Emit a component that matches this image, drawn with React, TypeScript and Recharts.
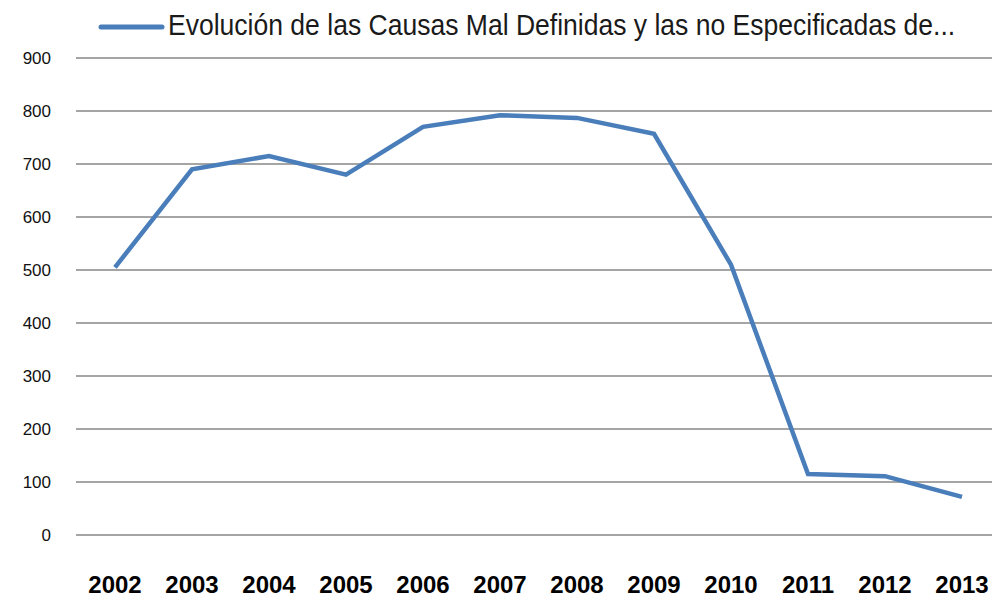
import React from "react";
import { LineChart, Line, XAxis, YAxis, CartesianGrid, Legend } from "recharts";

const years = ["2002", "2003", "2004", "2005", "2006", "2007", "2008", "2009", "2010", "2011", "2012", "2013"];
const values = [505, 690, 715, 680, 770, 792, 787, 757, 510, 115, 111, 72];
const yTicks = [0, 100, 200, 300, 400, 500, 600, 700, 800, 900];
const seriesName = "Evolución de las Causas Mal Definidas y las no Especificadas de...";

const data = years.map((y, i) => ({ year: y, value: values[i] }));

const LINE_COLOR = "#4a7ebb";

const LegendContent = (props: any) => {
  const p = props.payload && props.payload[0];
  const label = p ? p.value : seriesName;
  return (
    <svg width={992} height={56} style={{ display: "block" }}>
      <line x1={101} y1={27} x2={162} y2={27} stroke={LINE_COLOR} strokeWidth={5} strokeLinecap="round" />
      <g transform="translate(168,35) scale(0.915,1)">
        <text
          x={0}
          y={0}
          fontSize={29}
          fontFamily="'Liberation Sans', Arial, sans-serif"
          fill="#1a1a1a"
        >
          {label}
        </text>
      </g>
    </svg>
  );
};

export default function App() {
  return (
    <div style={{ width: 992, height: 597, overflow: "hidden", background: "#fff" }}>
      <style>{`body{margin:0;overflow:hidden;background:#fff}`}</style>
      <LineChart width={992} height={597} data={data} margin={{ top: 2, right: 0, bottom: 0, left: 0 }}>
        <Legend
          verticalAlign="top"
          align="left"
          height={56}
          content={LegendContent}
          wrapperStyle={{ top: 0, left: 0, width: 992, height: 56 }}
        />
        <CartesianGrid vertical={false} stroke="#878787" strokeWidth={1.5} />
        <XAxis
          dataKey="year"
          height={62}
          axisLine={false}
          tickLine={false}
          tickSize={0}
          tickMargin={41}
          padding={{ left: 39, right: 30 }}
          interval={0}
          tick={{ fontSize: 24, fontWeight: "bold", fill: "#000", fontFamily: "'Liberation Sans', Arial, sans-serif" }}
        />
        <YAxis
          width={76}
          domain={[0, 900]}
          ticks={yTicks}
          interval={0}
          axisLine={false}
          tickLine={false}
          tickSize={0}
          tickMargin={25}
          tick={{ fontSize: 17, fill: "#111", fontFamily: "'Liberation Sans', Arial, sans-serif" }}
        />
        <Line
          type="linear"
          dataKey="value"
          name={seriesName}
          stroke={LINE_COLOR}
          strokeWidth={4.5}
          dot={false}
          activeDot={false}
          isAnimationActive={false}
        />
      </LineChart>
    </div>
  );
}
